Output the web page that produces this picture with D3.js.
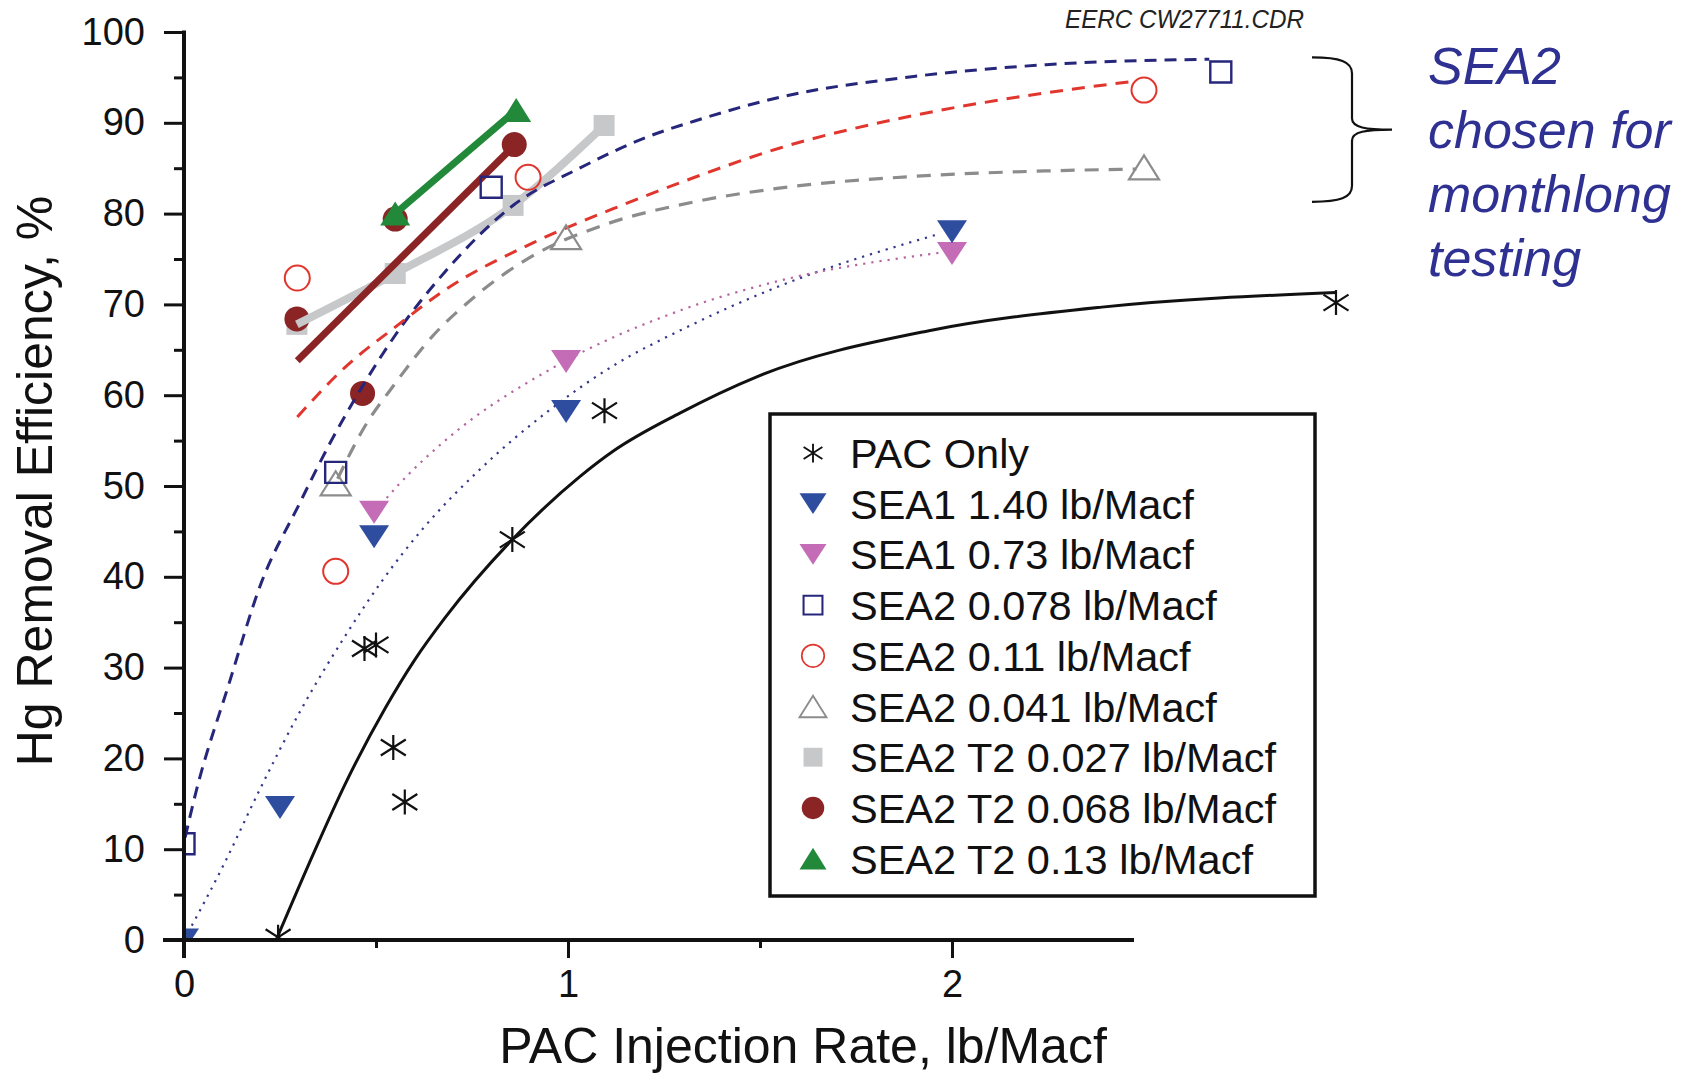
<!DOCTYPE html>
<html><head><meta charset="utf-8">
<script src="https://cdn.jsdelivr.net/npm/d3@7"></script>
<style>
body{margin:0;background:#fff}
svg{display:block}
text{font-family:"Liberation Sans", Arial, Helvetica, sans-serif}
</style>
</head><body>
<svg id="c" width="1686" height="1075"></svg>
<script>
// ---------- tick values ----------
const xTicksMajor = [0, 1, 2];
const xTicksMinor = [0.5, 1.5];
const yTicksMajor = [0, 10, 20, 30, 40, 50, 60, 70, 80, 90, 100];
const yTicksMinor = [5, 15, 25, 35, 45, 55, 65, 75, 85, 95];

// ---------- series labels ----------
const seriesNames = ["PAC Only", "SEA1 1.40 lb/Macf", "SEA1 0.73 lb/Macf", "SEA2 0.078 lb/Macf",
  "SEA2 0.11 lb/Macf", "SEA2 0.041 lb/Macf", "SEA2 T2 0.027 lb/Macf", "SEA2 T2 0.068 lb/Macf", "SEA2 T2 0.13 lb/Macf"];

// ---------- measured points ----------
const pacX = [0.245, 0.47, 0.50, 0.545, 0.575, 0.855, 1.095, 3.00];
const pacY = [0.3, 32.1, 32.5, 21.2, 15.2, 44.1, 58.3, 70.2];
const sea1HighX = [0, 0.25, 0.495, 0.995, 2.0];
const sea1HighY = [0, 14.6, 44.4, 58.2, 78.0];
const sea1LowX = [0.495, 0.995, 2.0];
const sea1LowY = [47.1, 63.7, 75.6];
const sea2aX = [0.0, 0.395, 0.80, 2.70];
const sea2aY = [10.6, 51.5, 82.9, 95.6];
const sea2bX = [0.295, 0.395, 0.896, 2.50];
const sea2bY = [72.9, 40.6, 84.0, 93.6];
const sea2cX = [0.395, 0.995, 2.50];
const sea2cY = [50.3, 77.4, 85.1];
const t2aX = [0.294, 0.55, 0.857, 1.094];
const t2aY = [67.8, 73.4, 80.9, 89.7];
const t2bX = [0.294, 0.465, 0.55, 0.86];
const t2bY = [68.4, 60.2, 79.4, 87.6];
const t2cX = [0.55, 0.865];
const t2cY = [80.0, 91.4];

// ---------- fitted curves ----------
const pacFitX = [0.245, 0.34, 0.42, 0.525, 0.6, 0.68, 0.855, 1.03, 1.12, 1.29, 1.49, 1.94, 2.39, 3.0];
const pacFitY = [0.5, 9.8, 17.2, 25.6, 30.8, 35.5, 44.1, 51.0, 53.9, 58.0, 62.0, 67.1, 69.7, 71.3];
const sea1HighFitX = [0, 0.1, 0.2, 0.3, 0.42, 0.52, 0.62, 0.77, 0.95, 1.12, 1.3, 1.55, 1.97];
const sea1HighFitY = [0, 8, 16.8, 25, 33.5, 39.8, 45.2, 51.8, 58.3, 63.3, 67.3, 72.0, 77.8];
const sea1LowFitX = [0.5, 0.56, 0.68, 0.96, 1.29, 1.55, 1.97];
const sea1LowFitY = [47.3, 50.2, 55.0, 63.0, 69.3, 72.6, 75.7];
const sea2aFitX = [0.003, 0.03, 0.117, 0.2, 0.3, 0.38, 0.465, 0.55, 0.68, 0.86, 1.03, 1.21, 1.33, 1.55, 1.9, 2.245, 2.67];
const sea2aFitY = [11.3, 16.1, 28.2, 39.2, 48.0, 54.7, 61.0, 66.6, 73.6, 81.0, 85.0, 88.5, 90.2, 92.8, 95.1, 96.4, 97.0];
const sea2bFitX = [0.295, 0.42, 0.55, 0.68, 0.91, 1.145, 1.33, 1.55, 1.9, 2.245, 2.48];
const sea2bFitY = [57.6, 63.1, 67.5, 71.6, 76.8, 81.0, 84.0, 87.2, 90.8, 93.3, 94.6];
const sea2cFitX = [0.4, 0.47, 0.55, 0.645, 0.75, 0.91, 1.09, 1.33, 1.55, 1.9, 2.245, 2.48];
const sea2cFitY = [50.8, 56.5, 61.3, 66.4, 70.6, 75.4, 78.7, 81.3, 82.8, 84.1, 84.7, 84.9];
const t2bFitX = [0.295, 0.86];
const t2bFitY = [63.8, 87.5];

// ---------- annotations ----------
const noteLines = ["SEA2", "chosen for", "monthlong", "testing"];
const braceRange = [97.2, 81.3];   // y-values spanned by the brace
const drawingId = "EERC CW27711.CDR";

// ---------- colours ----------
const col = {
  pac: "#111111", sea1h: "#2f4d9f", sea1l: "#c46cb6", sea2a: "#26267a", sea2b: "#e0362e",
  sea2c: "#8c8c8c", t2a: "#c7c8ca", t2b: "#8b2424", t2c: "#23893a",
  dotH: "#34378a", dotL: "#b4669f", note: "#2e3192"
};

const zip = (xs, ys) => xs.map((v, i) => [v, ys[i]]);

const svg = d3.select("#c");
const W = 1686, H = 1075;
svg.append("rect").attr("width", W).attr("height", H).attr("fill", "#fff");

const x = d3.scaleLinear().domain([0, 2.5]).range([184, 1144]);
const y = d3.scaleLinear().domain([0, 100]).range([940, 32]);

// clip to first quadrant
svg.append("defs").append("clipPath").attr("id", "plotclip")
  .append("rect").attr("x", x(0)).attr("y", 0).attr("width", W - x(0)).attr("height", y(0));

const plot = svg.append("g").attr("clip-path", "url(#plotclip)");

// ---------- marker shapes (relative to centre) ----------
function shapePath(kind, s) {
  const p = d3.path();
  if (kind === "down") { const w = 15 * s, h = 11.5 * s; p.moveTo(-w, -h); p.lineTo(w, -h); p.lineTo(0, h); p.closePath(); }
  else if (kind === "up") { const w = 15 * s, h = 12 * s; p.moveTo(-w, h); p.lineTo(w, h); p.lineTo(0, -h); p.closePath(); }
  else if (kind === "square") { const a = 10.5 * s; p.rect(-a, -a, 2 * a, 2 * a); }
  else if (kind === "circle") { const r = 12.5 * s; p.moveTo(r, 0); p.arc(0, 0, r, 0, 2 * Math.PI); }
  else if (kind === "star") {
    const r = 12.5 * s, dx = 12.5 * s, dy = 8 * s;
    p.moveTo(0, -r); p.lineTo(0, r);
    p.moveTo(-dx, -dy); p.lineTo(dx, dy);
    p.moveTo(-dx, dy); p.lineTo(dx, -dy);
  }
  return p.toString();
}
const styles = [
  {kind: "star", fill: "none", stroke: col.pac, sw: 2.2},
  {kind: "down", fill: col.sea1h, stroke: "none", sw: 0},
  {kind: "down", fill: col.sea1l, stroke: "none", sw: 0},
  {kind: "square", fill: "none", stroke: col.sea2a, sw: 2.4},
  {kind: "circle", fill: "none", stroke: col.sea2b, sw: 2},
  {kind: "up", fill: "none", stroke: col.sea2c, sw: 2.2},
  {kind: "square", fill: col.t2a, stroke: "none", sw: 0},
  {kind: "circle", fill: col.t2b, stroke: "none", sw: 0},
  {kind: "up", fill: col.t2c, stroke: "none", sw: 0}
];

function markers(g, pts, st, scale) {
  g.selectAll(null).data(pts).enter().append("path")
    .attr("transform", d => `translate(${x(d[0])},${y(d[1])})`)
    .attr("d", shapePath(st.kind, scale))
    .attr("fill", st.fill).attr("stroke", st.stroke).attr("stroke-width", st.sw);
}
function curve(g, pts, color, width, dash, c) {
  g.append("path").datum(pts)
    .attr("d", d3.line().x(d => x(d[0])).y(d => y(d[1])).curve(c || d3.curveMonotoneX))
    .attr("fill", "none").attr("stroke", color).attr("stroke-width", width)
    .attr("stroke-dasharray", dash || null).attr("stroke-linecap", "butt");
}

// ---------- T2 series (thick lines) ----------
markers(plot, zip(t2aX, t2aY), styles[6], 1);
markers(plot, zip(t2bX, t2bY), styles[7], 1);
curve(plot, zip(t2aX, t2aY), col.t2a, 8);
curve(plot, zip(t2bFitX, t2bFitY), col.t2b, 7, null, d3.curveLinear);
curve(plot, zip(t2cX, t2cY), col.t2c, 7, null, d3.curveLinear);
markers(plot, zip(t2cX, t2cY), styles[8], 1);

// ---------- fitted curves ----------
curve(plot, zip(pacFitX, pacFitY), col.pac, 3);
curve(plot, zip(sea1HighFitX, sea1HighFitY), col.dotH, 2.2, "2.2 6");
curve(plot, zip(sea1LowFitX, sea1LowFitY), col.dotL, 2.2, "2.2 6");
curve(plot, zip(sea2aFitX, sea2aFitY), col.sea2a, 3, "12 8");
curve(plot, zip(sea2bFitX, sea2bFitY), col.sea2b, 3, "13 9");
curve(plot, zip(sea2cFitX, sea2cFitY), col.sea2c, 3.2, "14 10");

// ---------- other markers ----------
markers(plot, zip(sea2cX, sea2cY), styles[5], 1);
markers(plot, zip(sea2aX, sea2aY), styles[3], 1);
markers(plot, zip(sea2bX, sea2bY), styles[4], 1);
markers(plot, zip(sea1LowX, sea1LowY), styles[2], 1);
markers(plot, zip(sea1HighX, sea1HighY), styles[1], 1);
markers(plot, zip(pacX, pacY), styles[0], 1);

// ---------- axes ----------
const ax = svg.append("g");
const yMaj = d3.axisLeft(y).tickValues(yTicksMajor).tickSize(20).tickPadding(19).tickSizeOuter(0);
const yMin = d3.axisLeft(y).tickValues(yTicksMinor).tickSize(10).tickFormat("").tickSizeOuter(0);
const xMaj = d3.axisBottom(x).tickValues(xTicksMajor).tickSize(18).tickPadding(12).tickFormat(d3.format("d")).tickSizeOuter(0);
const xMin = d3.axisBottom(x).tickValues(xTicksMinor).tickSize(8).tickFormat("").tickSizeOuter(0);

function styleAxis(g) {
  g.select(".domain").remove();
  g.selectAll(".tick line").attr("stroke", "#111").attr("stroke-width", 3);
  g.selectAll(".tick text").attr("fill", "#111").style("font-size", "38px")
    .style("font-family", '"Liberation Sans", Arial, sans-serif');
}
ax.append("g").attr("transform", `translate(${x(0)},0)`).call(yMaj).call(styleAxis);
ax.append("g").attr("transform", `translate(${x(0)},0)`).call(yMin).call(styleAxis);
ax.append("g").attr("transform", `translate(0,${y(0)})`).call(xMaj).call(styleAxis);
ax.append("g").attr("transform", `translate(0,${y(0)})`).call(xMin).call(styleAxis);
// axis lines
ax.append("line").attr("x1", x(0)).attr("x2", x(0)).attr("y1", y(100) - 1.5).attr("y2", y(0) + 18)
  .attr("stroke", "#111").attr("stroke-width", 4);
ax.append("line").attr("x1", x(0) - 21).attr("x2", x(2.474)).attr("y1", y(0)).attr("y2", y(0))
  .attr("stroke", "#111").attr("stroke-width", 4);

// axis titles
svg.append("text").attr("x", 803).attr("y", 1063).attr("text-anchor", "middle")
  .style("font-size", "50px").attr("fill", "#111").text("PAC Injection Rate, lb/Macf");
svg.append("text").attr("transform", "translate(52,481) rotate(-90)").attr("text-anchor", "middle")
  .style("font-size", "50px").attr("fill", "#111").text("Hg Removal Efficiency, %");

// ---------- legend ----------
const lg = svg.append("g");
lg.append("rect").attr("x", 770).attr("y", 414).attr("width", 545).attr("height", 482)
  .attr("fill", "#fff").attr("stroke", "#111").attr("stroke-width", 3.5);
seriesNames.forEach((name, i) => {
  const cy = 453 + i * 50.7;
  const st = styles[i];
  lg.append("path").attr("transform", `translate(813,${cy})`)
    .attr("d", shapePath(st.kind, st.kind === "star" ? 0.75 : 0.9))
    .attr("fill", st.fill).attr("stroke", st.stroke).attr("stroke-width", st.sw ? st.sw * 0.85 : 0);
  lg.append("text").attr("x", 850).attr("y", cy + 15).style("font-size", "41.5px")
    .attr("fill", "#111").text(name);
});

// ---------- annotations ----------
svg.append("text").attr("x", 1065).attr("y", 28).style("font-size", "25px").style("font-style", "italic")
  .attr("fill", "#222").attr("textLength", 239).attr("lengthAdjust", "spacingAndGlyphs").text(drawingId);

const bx = 1312, bv = 1352, tip = 1392;
const yT = y(braceRange[0]), yB = y(braceRange[1]), yM = (yT + yB) / 2;
const bp = d3.path();
bp.moveTo(bx, yT);
bp.bezierCurveTo(bx + 28, yT, bv, yT + 4, bv, yT + 16);
bp.lineTo(bv, yM - 11);
bp.bezierCurveTo(bv, yM - 2, bv + 14, yM, tip, yM);
bp.bezierCurveTo(bv + 14, yM, bv, yM + 2, bv, yM + 11);
bp.lineTo(bv, yB - 16);
bp.bezierCurveTo(bv, yB - 4, bx + 28, yB, bx, yB);
svg.append("path").attr("d", bp.toString()).attr("fill", "none").attr("stroke", "#111").attr("stroke-width", 2.2);

svg.append("g").selectAll("text").data(noteLines).enter().append("text")
  .attr("x", 1428).attr("y", (d, i) => 84 + i * 64)
  .style("font-size", "52px").style("font-style", "italic").attr("fill", col.note).text(d => d);
</script>
</body></html>
